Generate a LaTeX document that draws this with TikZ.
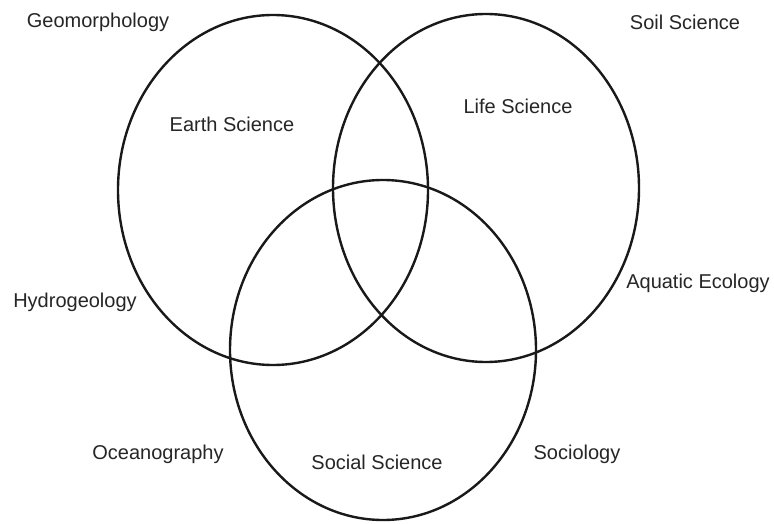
\documentclass[tikz,border=0pt]{standalone}
\usepackage{fontspec}
\setmainfont{Liberation Sans}
\begin{document}
\begin{tikzpicture}[x=1pt,y=-1pt,
  ring/.style={draw=black!90,line width=2.4pt},
  lbl/.style={font=\fontsize{20}{24}\selectfont,text=black!85,inner sep=0pt}]
\useasboundingbox[fill=white] (0,0) rectangle (774,524);
\draw[ring] (273,190) ellipse [x radius=155,y radius=175];
\draw[ring] (486,188) ellipse [x radius=153,y radius=174];
\draw[ring] (383,350) ellipse [x radius=153,y radius=170];
\node[lbl] (geo) at (98,22) {Geomorphology};
\node[lbl] (soil) at (685,22) {Soil Science};
\node[lbl] (earth) at (232,124) {Earth Science};
\node[lbl] (life) at (518,106) {Life Science};
\node[lbl] (hydro) at (75,302) {Hydrogeology};
\node[lbl] (aqua) at (698,283) {Aquatic Ecology};
\node[lbl] (ocean) at (158,454) {Oceanography};
\node[lbl] (social) at (377,462) {Social Science};
\node[lbl] (socio) at (577,454) {Sociology};
\end{tikzpicture}
\end{document}
